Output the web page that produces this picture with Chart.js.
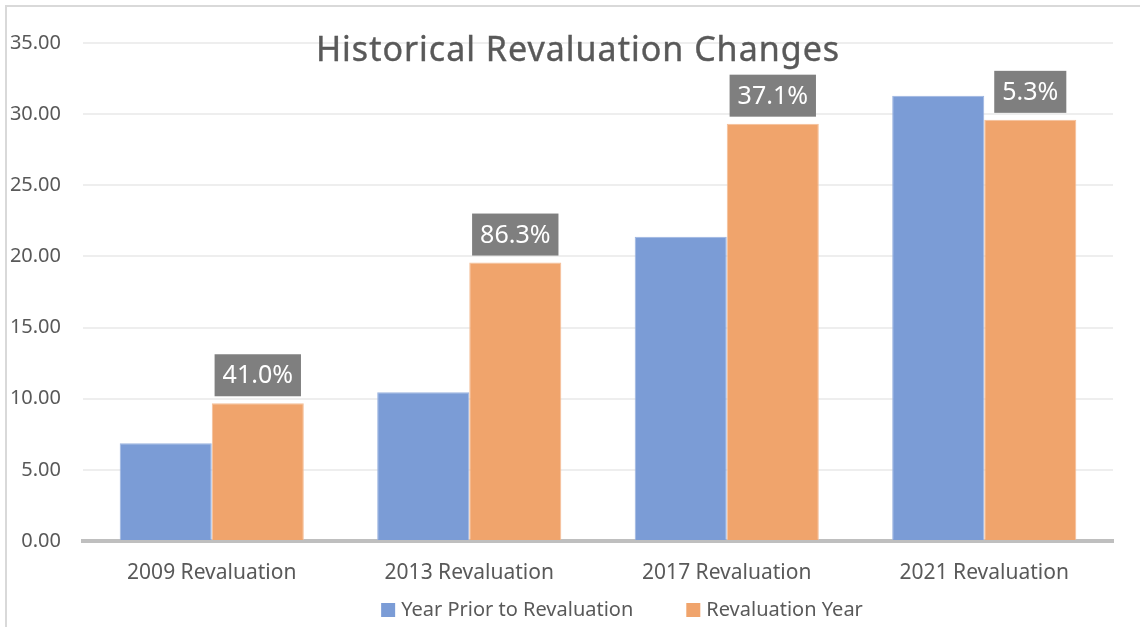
<!DOCTYPE html>
<html>
<head>
<meta charset="utf-8">
<script src="https://cdn.jsdelivr.net/npm/chart.js@4"></script>
<style>
  html, body { margin: 0; padding: 0; background: #ffffff; }
  #frame {
    position: absolute; left: 5px; top: 5px; width: 1140px; height: 630px;
    border-left: 2px solid #d9d9d9; border-top: 2px solid #d9d9d9;
  }
  #chart { position: absolute; left: 0; top: 0; }
</style>
</head>
<body>
<div id="frame"></div>
<canvas id="chart" width="1140" height="627"></canvas>
<script>
// chart data
const categories = ["2009 Revaluation", "2013 Revaluation", "2017 Revaluation", "2021 Revaluation"];
const priorYear = [6.87, 10.45, 21.39, 31.3];
const revalYear = [9.68, 19.57, 29.33, 29.6];
const changeLabels = ["41.0%", "86.3%", "37.1%", "5.3%"];
const yTicks = [0, 5, 10, 15, 20, 25, 30, 35];

const FONT = "'Noto Sans', 'Open Sans', sans-serif";
const GREY = "#595959";

// title drawn over the plot, like the original
const titlePlugin = {
  id: 'overTitle',
  afterDraw(chart) {
    const ctx = chart.ctx;
    ctx.save();
    ctx.font = "34px " + FONT;
    ctx.fillStyle = GREY;
    ctx.strokeStyle = GREY;
    ctx.lineWidth = 0.4;
    ctx.textAlign = 'center';
    ctx.textBaseline = 'middle';
    if ('letterSpacing' in ctx) ctx.letterSpacing = '1px';
    ctx.fillText("Historical Revaluation Changes", 578, 51);
    ctx.strokeText("Historical Revaluation Changes", 578, 51);
    ctx.restore();
  }
};

// grey boxes with % change above the orange bars
const boxLabels = {
  id: 'boxLabels',
  afterDatasetsDraw(chart) {
    const ctx = chart.ctx;
    const meta = chart.getDatasetMeta(1);
    ctx.save();
    ctx.font = "25px " + FONT;
    ctx.textAlign = 'center';
    ctx.textBaseline = 'middle';
    meta.data.forEach((bar, i) => {
      const txt = changeLabels[i];
      const w = ctx.measureText(txt).width + 16;
      const h = 42;
      const bottom = bar.y - 7;
      ctx.fillStyle = "#7f7f7f";
      ctx.fillRect(bar.x - w / 2, bottom - h, w, h);
      ctx.fillStyle = "#ffffff";
      ctx.fillText(txt, bar.x, bottom - h / 2 + 1);
    });
    ctx.restore();
  }
};

// simple legend under the axis labels
const bottomLegend = {
  id: 'bottomLegend',
  afterDraw(chart) {
    const ctx = chart.ctx;
    const sets = chart.data.datasets;
    ctx.save();
    ctx.font = "20px " + FONT;
    ctx.textBaseline = 'middle';
    ctx.textAlign = 'left';
    const box = 14, gapText = 6, gapItem = 53, cy = 610;
    const widths = sets.map(d => box + gapText + ctx.measureText(d.label).width);
    const total = widths.reduce((a, b) => a + b, 0) + gapItem * (sets.length - 1);
    let x = 622 - total / 2;
    sets.forEach((d, i) => {
      ctx.fillStyle = d.backgroundColor;
      ctx.fillRect(x, cy - box / 2, box, box);
      ctx.fillStyle = GREY;
      ctx.fillText(d.label, x + box + gapText, cy);
      x += widths[i] + gapItem;
    });
    ctx.restore();
  }
};

new Chart(document.getElementById('chart').getContext('2d'), {
  type: 'bar',
  data: {
    labels: categories,
    datasets: [
      {
        label: "Year Prior to Revaluation",
        data: priorYear,
        backgroundColor: "#7b9cd6",
        borderColor: "#9bb4e0",
        borderWidth: 1
      },
      {
        label: "Revaluation Year",
        data: revalYear,
        backgroundColor: "#f0a46c",
        borderColor: "#f5bf98",
        borderWidth: 1
      }
    ]
  },
  options: {
    responsive: false,
    animation: false,
    layout: { padding: { left: 0, right: 27, top: 43, bottom: 36 } },
    datasets: {
      bar: { categoryPercentage: 0.715, barPercentage: 1.0 }
    },
    scales: {
      x: {
        afterFit(scale) { scale.height = 50; },
        grid: { display: false, drawTicks: false },
        border: { display: true, color: "#bfbfbf", width: 4 },
        ticks: { color: GREY, font: { family: FONT, size: 21 }, padding: 19, maxRotation: 0 }
      },
      y: {
        min: 0,
        max: 35,
        afterFit(scale) { scale.width = 83; },
        afterBuildTicks(scale) { scale.ticks = yTicks.map(v => ({ value: v })); },
        grid: { color: "#eeeeee", lineWidth: 2, drawTicks: false },
        border: { display: false },
        ticks: {
          color: GREY,
          font: { family: FONT, size: 20 },
          padding: 22,
          callback: v => Number(v).toFixed(2)
        }
      }
    },
    plugins: {
      legend: { display: false },
      tooltip: { enabled: false }
    }
  },
  plugins: [titlePlugin, boxLabels, bottomLegend]
});
</script>
</body>
</html>
